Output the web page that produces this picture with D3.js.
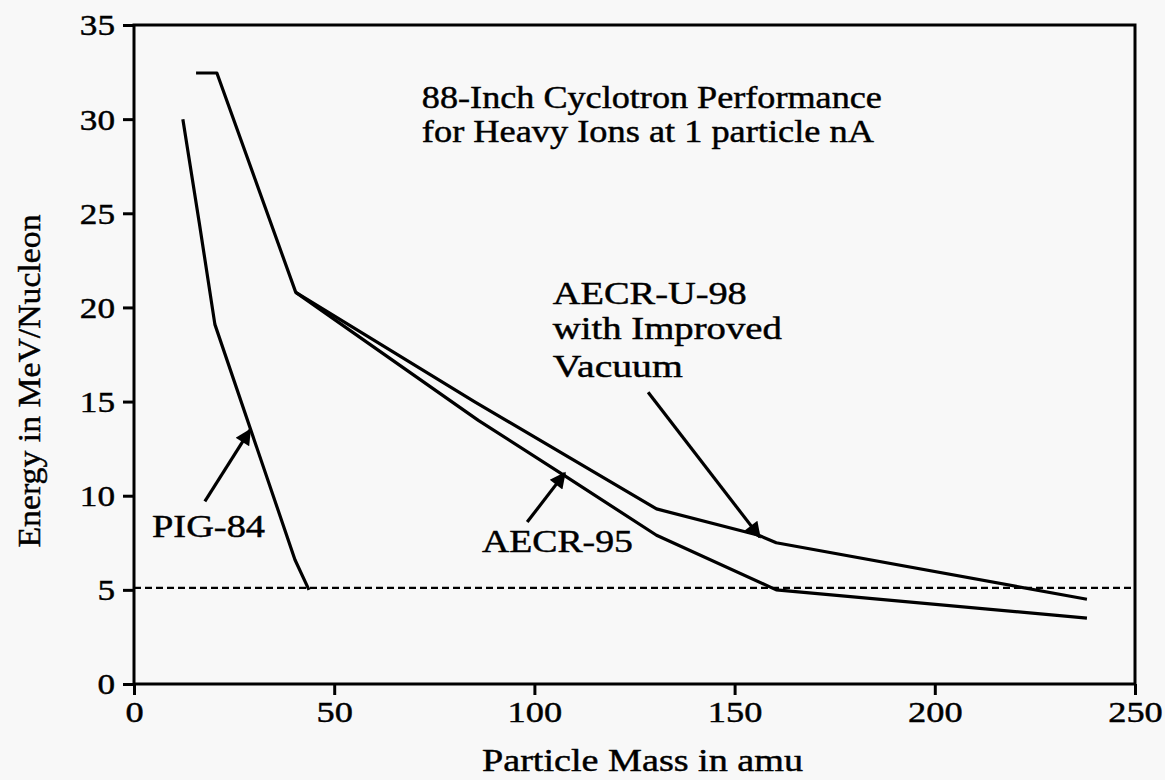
<!DOCTYPE html>
<html>
<head>
<meta charset="utf-8">
<script src="https://cdn.jsdelivr.net/npm/d3@7"></script>
<style>
  body { margin: 0; background: #f8f8f8; }
  svg { display: block; }
  text { font-family: "Liberation Serif", "Times New Roman", serif; fill: #000; stroke: #000; stroke-width: 0.45px; }
</style>
</head>
<body>
<div id="chart"></div>
<script>
// data (mass in amu, energy in MeV/nucleon)
const pig84 = [[12.2, 30.0], [16.3, 24.5], [20.2, 19.1], [40.2, 6.6], [43.7, 5.0]];
const aecr95 = [[40.4, 20.8], [86, 14.0], [108, 11.0], [130.5, 7.9], [160.4, 5.0], [238, 3.5]];
const aecrU98 = [[15.5, 32.45], [20.7, 32.45], [40.4, 20.8], [85, 15.0], [130.5, 9.3], [156, 7.9], [160.4, 7.5], [238, 4.5]];
const limitLine = 5.1;

const xTicks = [0, 50, 100, 150, 200, 250];
const yTicks = [0, 5, 10, 15, 20, 25, 30, 35];

// annotation text and anchors, in data units
const titleLines = ["88-Inch Cyclotron Performance", "for Heavy Ions at 1 particle nA"];
const aecrULines = ["AECR-U-98", "with Improved", "Vacuum"];
const arrows = [
  { from: [17.7, 9.7], to: [29.0, 13.5] },   // PIG-84
  { from: [98.2, 8.6], to: [107.6, 11.2] },  // AECR-95
  { from: [128.4, 15.5], to: [156.3, 7.8] }  // AECR-U-98
];

const width = 1165, height = 780;
const svg = d3.select("#chart").append("svg")
  .attr("width", width).attr("height", height);

svg.append("rect").attr("width", width).attr("height", height).attr("fill", "#f8f8f8");

const x = d3.scaleLinear().domain([0, 250]).range([134, 1135]);
const y = d3.scaleLinear().domain([0, 35]).range([684, 25]);

svg.append("defs").append("marker")
  .attr("id", "head")
  .attr("viewBox", "0 0 10 10")
  .attr("refX", 9).attr("refY", 5)
  .attr("markerWidth", 6).attr("markerHeight", 5)
  .attr("markerUnits", "strokeWidth")
  .attr("orient", "auto")
  .append("path").attr("d", "M0,0 L10,5 L0,10 z").attr("fill", "#000");

// frame
svg.append("rect")
  .attr("x", x(0)).attr("y", y(35))
  .attr("width", x(250) - x(0)).attr("height", y(0) - y(35))
  .attr("fill", "none").attr("stroke", "#000").attr("stroke-width", 3);

// y axis
const yAxis = svg.append("g")
  .attr("transform", `translate(${x(0)},0)`)
  .call(d3.axisLeft(y).tickValues(yTicks).tickSize(11).tickPadding(8));
yAxis.select(".domain").remove();
yAxis.selectAll(".tick line").attr("stroke-width", 3);
yAxis.selectAll(".tick text")
  .attr("font-size", 30).attr("dy", "0.33em")
  .attr("textLength", d => String(d).length * 17.6)
  .attr("lengthAdjust", "spacingAndGlyphs");

// x axis
const xAxis = svg.append("g")
  .attr("transform", `translate(0,${y(0)})`)
  .call(d3.axisBottom(x).tickValues(xTicks).tickSize(11).tickPadding(4));
xAxis.select(".domain").remove();
xAxis.selectAll(".tick line").attr("stroke-width", 3);
xAxis.selectAll(".tick text")
  .attr("font-size", 30).attr("dy", "0.76em")
  .attr("textLength", d => String(d).length * 18.2)
  .attr("lengthAdjust", "spacingAndGlyphs");

// axis titles
svg.append("text")
  .attr("x", (x(0) + x(250)) / 2 + 8).attr("y", 771)
  .attr("text-anchor", "middle").attr("font-size", 31)
  .attr("textLength", 321).attr("lengthAdjust", "spacingAndGlyphs")
  .text("Particle Mass in amu");

svg.append("text")
  .attr("transform", "translate(40,381) rotate(-90)")
  .attr("text-anchor", "middle").attr("font-size", 32)
  .attr("textLength", 333).attr("lengthAdjust", "spacingAndGlyphs")
  .text("Energy in MeV/Nucleon");

// 5 MeV/u dashed line
svg.append("line")
  .attr("x1", x(0)).attr("x2", x(250))
  .attr("y1", y(limitLine)).attr("y2", y(limitLine))
  .attr("stroke", "#000").attr("stroke-width", 2.2)
  .attr("stroke-dasharray", "7,4");

// curves
const line = d3.line().x(d => x(d[0])).y(d => y(d[1]));
[pig84, aecr95, aecrU98].forEach(s => {
  svg.append("path").datum(s)
    .attr("d", line)
    .attr("fill", "none").attr("stroke", "#000")
    .attr("stroke-width", 3.2).attr("stroke-linejoin", "round");
});

// arrows
svg.selectAll(".arrow").data(arrows).enter().append("line")
  .attr("class", "arrow")
  .attr("x1", d => x(d.from[0])).attr("y1", d => y(d.from[1]))
  .attr("x2", d => x(d.to[0])).attr("y2", d => y(d.to[1]))
  .attr("stroke", "#000").attr("stroke-width", 3.2)
  .attr("marker-end", "url(#head)");

// labels
function label(txt, xv, yv, len) {
  svg.append("text")
    .attr("x", x(xv)).attr("y", y(yv))
    .attr("font-size", 31)
    .attr("textLength", len).attr("lengthAdjust", "spacingAndGlyphs")
    .text(txt);
}

label(titleLines[0], 71.9, 30.6, 460);
label(titleLines[1], 71.9, 28.8, 452);
label(aecrULines[0], 104.6, 20.2, 194);
label(aecrULines[1], 104.6, 18.3, 229);
label(aecrULines[2], 104.6, 16.3, 130);
label("AECR-95", 86.9, 7.0, 151);
label("PIG-84", 4.5, 7.8, 113);
</script>
</body>
</html>
